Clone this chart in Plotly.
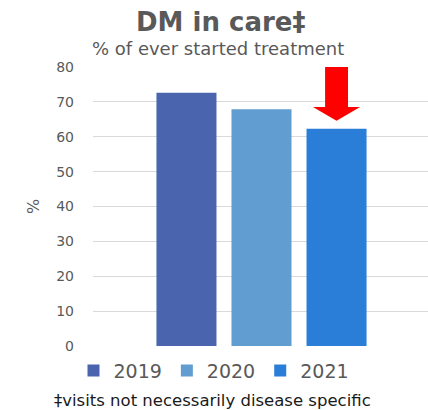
import plotly.graph_objects as go

# Share of people ever started on treatment who remain in care, by year
years = ["2019", "2020", "2021"]
in_care_pct = [72.6, 67.9, 62.3]
bar_colors = ["#4A65AD", "#619DD1", "#2B7ED7"]

tick_vals = [0, 10, 20, 30, 40, 50, 60, 70, 80]

TEXT = "#595959"
FONT = "DejaVu Sans"

fig = go.Figure()
for yr, val, col in zip(years, in_care_pct, bar_colors):
    fig.add_trace(go.Bar(
        x=[0], y=[val], name=yr, marker=dict(color=col, line=dict(width=0)),
        hoverinfo="skip",
    ))

# block arrow pointing down at the latest year's bar
n = len(years)
slot = (1 - 0.332) / n
cx = -0.5 * (1 - 0.332) + slot * (n - 1) + slot / 2
hw, sw = 0.070, 0.034
top, neck, tip = 80.2, 68.5, 64.6
path = (f"M {cx - sw} {top} L {cx + sw} {top} L {cx + sw} {neck} "
        f"L {cx + hw} {neck} L {cx} {tip} L {cx - hw} {neck} "
        f"L {cx - sw} {neck} Z")
fig.add_shape(type="path", path=path, xref="x", yref="y",
              fillcolor="#FF0000", line=dict(width=0), layer="above")

fig.add_annotation(text="<b>DM in care‡</b>", xref="paper", yref="paper",
                   x=(220 - 93) / 335, y=1.0, xanchor="center", yanchor="middle",
                   yshift=45, showarrow=False,
                   font=dict(family=FONT, size=26, color=TEXT))
fig.add_annotation(text="% of ever started treatment", xref="paper", yref="paper",
                   x=(218 - 93) / 335, y=1.0, xanchor="center", yanchor="middle",
                   yshift=19, showarrow=False,
                   font=dict(family=FONT, size=18, color=TEXT))
fig.add_annotation(text="‡visits not necessarily disease specific",
                   xref="paper", yref="paper",
                   x=(212 - 93) / 335, y=0, xanchor="center", yanchor="middle",
                   yshift=-54, showarrow=False,
                   font=dict(family=FONT, size=16.5, color="#1a1a1a"))

fig.update_layout(
    width=428, height=410,
    margin=dict(l=93, r=0, t=67, b=64),
    paper_bgcolor="white", plot_bgcolor="white",
    barmode="group", bargap=0.332, bargroupgap=0.2,
    showlegend=True,
    legend=dict(orientation="h", x=(214 - 93) / 335, xanchor="center",
                y=-0.02, yanchor="top", yref="paper",
                font=dict(family=FONT, size=19, color=TEXT),
                itemwidth=30, tracegroupgap=0),
    font=dict(family=FONT, color=TEXT),
)
fig.update_xaxes(range=[-0.5, -0.5 + 335 / 337], showticklabels=False,
                 showgrid=False, zeroline=False, showline=False, fixedrange=True)
fig.update_yaxes(range=[0, 80], tickvals=tick_vals, showgrid=True,
                 gridcolor="#D9D9D9", gridwidth=1, zeroline=False,
                 showline=False, ticks="", ticklabelstandoff=18,
                 tickfont=dict(family=FONT, size=14, color=TEXT),
                 title=dict(text="%", standoff=12,
                            font=dict(family=FONT, size=16, color=TEXT)))

fig.write_html("out.html")
